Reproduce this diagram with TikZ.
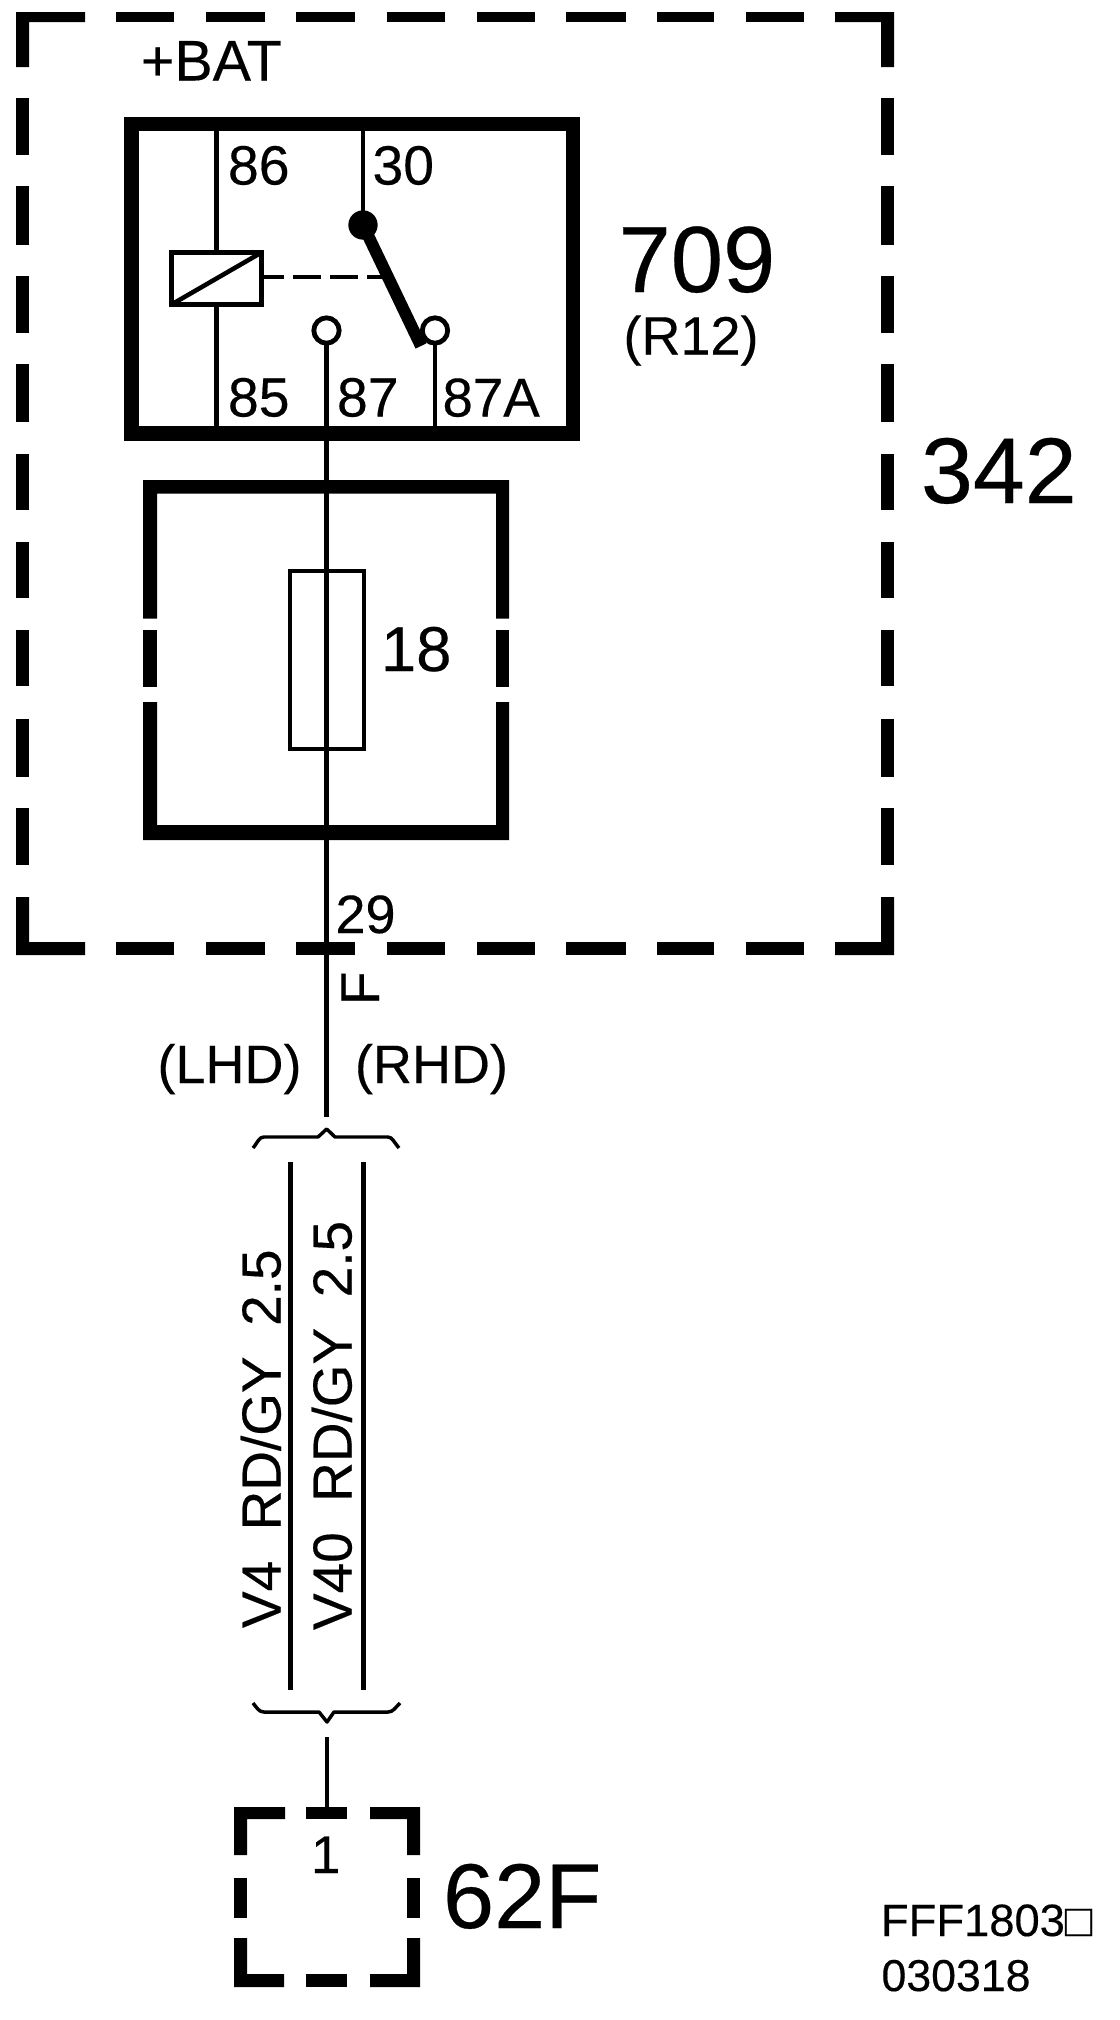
\documentclass[tikz,border=0pt]{standalone}
\usepackage{fontspec}
\setmainfont{Liberation Sans}
\newcommand\tsize[1]{\fontsize{#1}{#1}\selectfont\addfontfeature{FakeBold=0.3}}
\tikzset{
  lab/.style={inner sep=0pt,outer sep=0pt,anchor=base west,text=black},
  wire/.style={line width=3.6pt,line cap=butt},
  thinbox/.style={draw=black,line width=3.4pt,rectangle,inner sep=0pt,outer sep=0pt},
  contact/.style={draw=black,fill=white,line width=3.6pt,circle,inner sep=0pt,outer sep=0pt,minimum size=19pt},
  brace/.style={line width=2.6pt,line join=round},
}
\begin{document}
\begin{tikzpicture}[x=0.75pt,y=-0.75pt]
\useasboundingbox (0,0) rectangle (1120,2020);
\fill[white] (0,0) rectangle (1120,2020);

% outer dashed box 342
\foreach \a/\b in {116/174,206/265,296/355,387/445,477/535,566/626,657/714,746/804}{
  \fill (\a,12) rectangle (\b,22);
  \fill (\a,942) rectangle (\b,955);
}
\foreach \a/\b in {98/155,186/245,276/333,364/422,454/510,542/598,630/686,719/777,808/865}{
  \fill (16,\a) rectangle (29,\b);
  \fill (881,\a) rectangle (894,\b);
}
\fill (16,12) -- (85,12) -- (85,22) -- (29,22) -- (29,67) -- (16,67) -- cycle;
\fill (835,12) -- (894,12) -- (894,67) -- (881,67) -- (881,22) -- (835,22) -- cycle;
\fill (16,897) -- (29,897) -- (29,942) -- (85,942) -- (85,955) -- (16,955) -- cycle;
\fill (894,897) -- (881,897) -- (881,942) -- (835,942) -- (835,955) -- (894,955) -- cycle;

% fuse holder box
\fill (143,480) -- (509,480) -- (509,618.5) -- (496,618.5) -- (496,493.5) -- (157,493.5) -- (157,618.5) -- (143,618.5) -- cycle;
\fill (143,630) rectangle (157,687);
\fill (496,630) rectangle (509,687);
\fill (143,702) -- (157,702) -- (157,825) -- (496,825) -- (496,702) -- (509,702) -- (509,840) -- (143,840) -- cycle;

% relay
\node[draw=black,line width=10.9pt,rectangle,inner sep=0pt,outer sep=0pt,minimum width=331.1pt,minimum height=232.1pt] (relay) at (352.25,278.75) {};
\node[thinbox,minimum width=67.5pt,minimum height=39pt] (coil) at (216.5,278.5) {};
\draw[line width=3.4pt] (coil.south west) -- (coil.north east);
\draw[wire] (coil.north) -- (coil.north |- relay.north);
\draw[wire] (coil.south) -- (coil.south |- relay.south);
\node[circle,fill=black,inner sep=0pt,outer sep=0pt,minimum size=22pt] (pivot) at (363,225) {};
\coordinate (bladeend) at (421,346);
\node[contact] (c87) at (326.5,330.5) {};
\node[contact] (c87a) at (435,330.5) {};
\draw[wire] (pivot.center) -- (pivot.center |- relay.north);
\draw[line width=9pt] (pivot.center) -- (bladeend);
\coordinate (dashstart) at (259,277);
\coordinate (dashend) at (386,277);
\draw[line width=3.2pt,dash pattern=on 21pt off 6.75pt,dash phase=2.25pt] (dashstart) -- (dashend);
\draw[wire] (c87a.south) -- (c87a.south |- relay.south);

% fuse and main wire
\node[thinbox,line width=3pt,minimum width=54.8pt,minimum height=134pt] (fuse) at (327,660) {};
\coordinate (mainend) at (326.5,1117);
\draw[wire] (c87.south) -- (mainend);

% braces
\coordinate (btl) at (253,1148);
\coordinate (btr) at (399,1148);
\draw[brace] (btl) .. controls (258,1142) and (259,1137) .. (264,1137) -- (318,1137) -- (326.7,1129) -- (335,1137) -- (388,1137) .. controls (392,1137) and (394,1142) .. (btr);
\coordinate (bbl) at (253,1703);
\coordinate (bbr) at (400,1703);
\draw[brace] (bbl) .. controls (257,1708) and (259,1712) .. (264,1712) -- (319,1712) -- (327,1722) -- (334,1712) -- (388,1712) .. controls (393,1712) and (395,1708) .. (bbr);

% V4 / V40
\coordinate (v4t) at (290.4,1162);
\coordinate (v4b) at (290.4,1690);
\coordinate (v40t) at (363.7,1162);
\coordinate (v40b) at (363.7,1690);
\draw[wire] (v4t) -- (v4b);
\draw[wire] (v40t) -- (v40b);

% connector 62F
\foreach \a/\b in {305.6/346.7}{
  \fill (\a,1807) rectangle (\b,1819);
  \fill (\a,1974) rectangle (\b,1987);
}
\fill (234,1807) -- (285,1807) -- (285,1819) -- (247,1819) -- (247,1855) -- (234,1855) -- cycle;
\fill (420,1807) -- (370,1807) -- (370,1819) -- (407,1819) -- (407,1855) -- (420,1855) -- cycle;
\fill (234,1878) rectangle (247,1918);
\fill (407,1878) rectangle (420,1918);
\fill (234,1938) -- (247,1938) -- (247,1974) -- (284,1974) -- (284,1987) -- (234,1987) -- cycle;
\fill (420,1938) -- (407,1938) -- (407,1974) -- (370,1974) -- (370,1987) -- (420,1987) -- cycle;
\coordinate (conntop) at (327,1807);
\coordinate (wiretop) at (327,1737);
\draw[wire] (wiretop) -- (conntop);

% labels
\node[lab,font=\tsize{43pt}] (tbat) at (141,80.5) {+BAT};
\node[lab,font=\tsize{41.5pt}] (t86) at (228,184.5) {86};
\node[lab,font=\tsize{41.5pt}] (t30) at (372.5,184.5) {30};
\node[lab,font=\tsize{41.5pt}] (t85) at (228,416.5) {85};
\node[lab,font=\tsize{41.5pt}] (t87) at (337,416.5) {87};
\node[lab,font=\tsize{41pt}] (t87a) at (442.5,416.5) {87A};
\node[lab,font=\tsize{70.5pt}] (t709) at (618.5,292) {709};
\node[lab,font=\tsize{40.5pt}] (tr12) at (623.5,354.5) {(R12)};
\node[lab,font=\tsize{70pt}] (t342) at (921,503) {342};
\node[lab,font=\tsize{47.5pt}] (t18) at (381,671) {18};
\node[lab,font=\tsize{40.5pt}] (t29) at (335.5,933) {29};
\node[lab,font=\tsize{41pt},rotate=90] (tf) at (379,1005) {F};
\node[lab,font=\tsize{40.5pt}] (tlhd) at (157.5,1083) {(LHD)};
\node[lab,font=\tsize{40.5pt}] (trhd) at (355,1083) {(RHD)};
\node[lab,font=\tsize{41.2pt},rotate=90] (tv4) at (280.5,1628) {V4\ \ RD/GY\ \ 2.5};
\node[lab,font=\tsize{41.2pt},rotate=90] (tv40) at (351.5,1630) {V40\ \ RD/GY\ \ 2.5};
\node[lab,font=\tsize{39.75pt}] (t1) at (311,1873) {1};
\node[lab,font=\tsize{69pt}] (t62f) at (443,1928) {62F};
\node[lab,font=\tsize{34pt}] (tfff) at (881,1936) {FFF1803□};
\node[lab,font=\tsize{33.5pt}] (tdate) at (881.5,1991) {030318};
\end{tikzpicture}
\end{document}
